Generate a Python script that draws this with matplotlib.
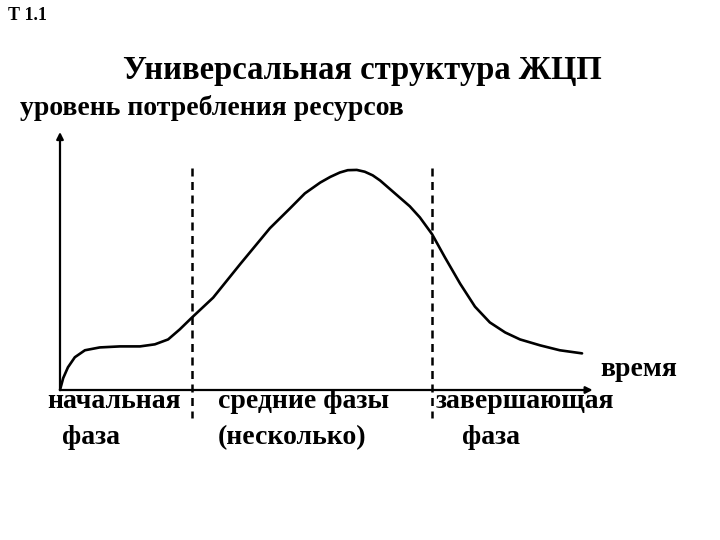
import numpy as np
import matplotlib
matplotlib.use("Agg")
import matplotlib.pyplot as plt

plt.rcParams['font.family'] = ['Liberation Serif', 'DejaVu Serif']

# DATA: resource use level over time (arbitrary units 0..100)
time = [0, 0.6, 1.5, 2.8, 4.7, 7.5, 11.3, 15.1, 17.9, 20.4, 22.6, 24.9, 28.9,
        34.0, 39.6, 43.4, 46.2, 49.1, 51.0, 52.8, 54.3, 56.0, 57.5, 59.0, 60.4,
        63.2, 66.0, 67.9, 70.2, 72.6, 75.5, 78.3, 81.1, 84.0, 86.8, 90.6, 94.3, 98.5]
level = [0, 4.6, 8.8, 12.7, 15.4, 16.5, 16.9, 16.9, 17.7, 19.6, 23.5, 28.1, 35.8,
         48.8, 62.7, 70.4, 76.2, 80.4, 82.6, 84.3, 85.2, 85.3, 84.6, 83.2, 81.2,
         76.2, 71.2, 66.9, 60.4, 51.5, 41.2, 32.3, 26.2, 22.3, 19.6, 17.3, 15.4, 14.2]
phase_bounds = [24.9, 70.2]
phase_line1 = ["начальная", "средние фазы", "завершающая"]
phase_line2 = ["фаза", "(несколько)", "фаза"]
line1_x = [47, 218, 436]
line2_x = [62, 218, 462]

W, H = 720, 540
fig = plt.figure(figsize=(7.2, 5.4), dpi=100)

def fx(px):
    return px / W

def fy(py):
    return 1 - py / H

# plot area: x from 60px to 590px, y from 390px up to 132px
ax = fig.add_axes([fx(60), fy(390), (590 - 60) / W, (390 - 132) / H])
ax.set_xlim(0, 100)
ax.set_ylim(0, 100)
ax.axis('off')

ax.plot(time, level, color='black', lw=1.9, solid_capstyle='round',
        solid_joinstyle='round', clip_on=False)

for b in phase_bounds:
    ax.plot([b, b], [86, -10.8], color='black', lw=1.8,
            linestyle=(0, (3.2, 2.2)), clip_on=False)

# axes with arrows
arrow = dict(arrowstyle='-|>', color='black', lw=1.6, mutation_scale=10,
             shrinkA=0, shrinkB=0)
ax.annotate('', xy=(0, 100), xytext=(0, 0), arrowprops=arrow,
            annotation_clip=False)
ax.annotate('', xy=(100.5, 0), xytext=(0, 0), arrowprops=arrow,
            annotation_clip=False)

fig.text(fx(8), fy(15), "Т 1.1", fontsize=13, fontweight='bold', va='center')
fig.text(fx(362), fy(70), "Универсальная структура ЖЦП", fontsize=23.5,
         fontweight='bold', ha='center', va='center')
fig.text(fx(20), fy(108), "уровень потребления ресурсов", fontsize=20,
         fontweight='bold', ha='left', va='center')
fig.text(fx(600), fy(370), "время", fontsize=20, fontweight='bold',
         ha='left', va='center')

for t, px in zip(phase_line1, line1_x):
    fig.text(fx(px), fy(402), t, fontsize=20, fontweight='bold', ha='left',
             va='center')
for t, px in zip(phase_line2, line2_x):
    fig.text(fx(px), fy(438), t, fontsize=20, fontweight='bold', ha='left',
             va='center')

fig.savefig("out.png", dpi=100, facecolor='white')
